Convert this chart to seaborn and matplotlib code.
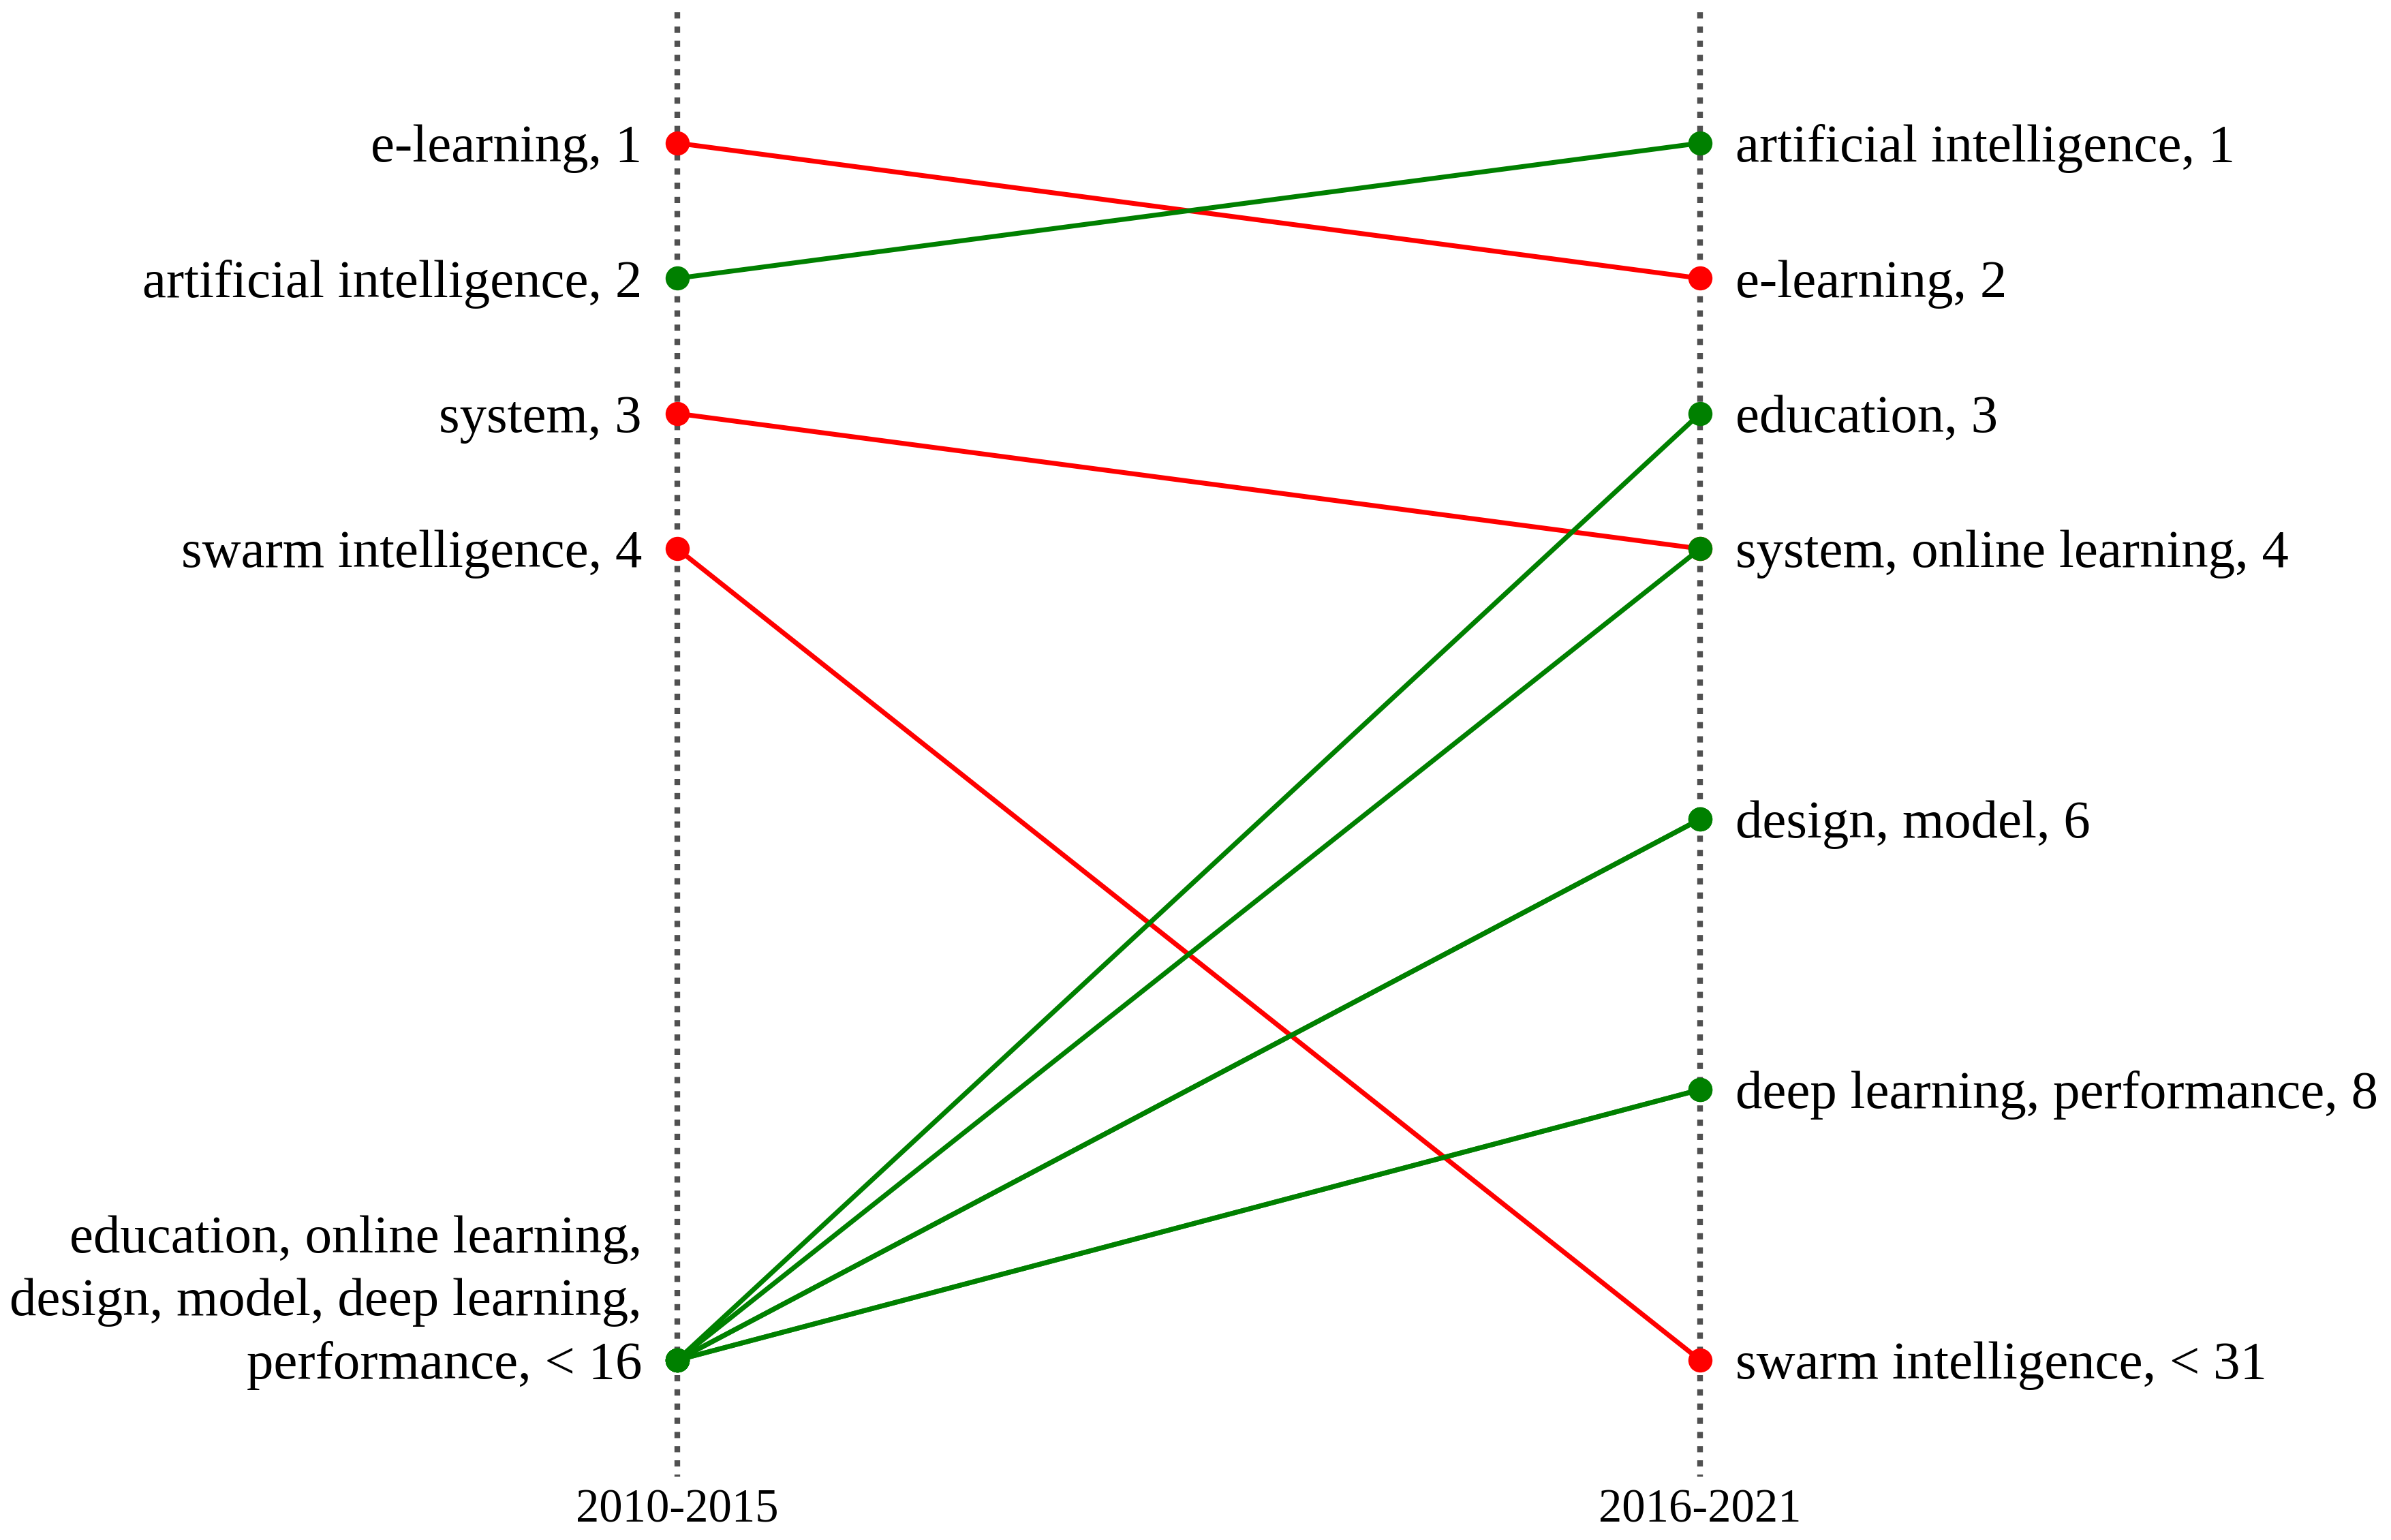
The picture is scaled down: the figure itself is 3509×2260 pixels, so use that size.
import matplotlib
matplotlib.use("Agg")
import matplotlib.pyplot as plt
import seaborn as sns
import pandas as pd

# ---- data ----
periods = ["2010-2015", "2016-2021"]
keywords = ["e-learning", "artificial intelligence", "system", "swarm intelligence",
            "education", "online learning", "design", "model", "deep learning", "performance"]
rank_2010 = [1, 2, 3, 4, 10, 10, 10, 10, 10, 10]   # 10 = "< 16" slot
rank_2016 = [2, 1, 4, 10, 3, 4, 6, 6, 8, 8]         # 10 = "< 31" slot

left_labels = ["e-learning, 1", "artificial intelligence, 2", "system, 3",
               "swarm intelligence, 4",
               "education, online learning,\ndesign, model, deep learning,\nperformance, < 16"]
left_label_ranks = [1, 2, 3, 4, 10]
right_labels = ["artificial intelligence, 1", "e-learning, 2", "education, 3",
                "system, online learning, 4", "design, model, 6",
                "deep learning, performance, 8", "swarm intelligence, < 31"]
right_label_ranks = [1, 2, 3, 4, 6, 8, 10]

# ---- style ----
sns.set_theme(style="white")
plt.rcParams["font.family"] = ["Liberation Serif", "DejaVu Serif"]

rows = []
for k, a, b in zip(keywords, rank_2010, rank_2016):
    change = "up" if b < a else "down"
    rows.append({"keyword": k, "x": 0, "rank": a, "change": change})
    rows.append({"keyword": k, "x": 1, "rank": b, "change": change})
df = pd.DataFrame(rows)

W, H, DPI = 3509, 2260, 300
fig = plt.figure(figsize=(W / DPI, H / DPI), dpi=DPI)
ax = fig.add_axes([0, 0, 1, 1])

# dotted period axes
ax.vlines([0, 1], 0.03, 10.86, colors="#505050", linestyles=(0, (1.1, 1.4)),
          linewidth=2.0, zorder=1)

sns.lineplot(data=df, x="x", y="rank", units="keyword", estimator=None,
             hue="change", hue_order=["down", "up"],
             palette={"down": "#ff0000", "up": "#008000"},
             marker="o", markersize=8.5, markeredgewidth=0,
             linewidth=1.7, legend=False, ax=ax, zorder=3, sort=False)

fs = 18.9
for txt, r in zip(left_labels, left_label_ranks):
    ax.annotate(txt, (0, r), xytext=(-12.5, -6.5), textcoords="offset points",
                ha="right", va="baseline", multialignment="right",
                fontsize=fs, color="black", linespacing=1.38)
for txt, r in zip(right_labels, right_label_ranks):
    ax.annotate(txt, (1, r), xytext=(12.5, -6.5), textcoords="offset points",
                ha="left", va="baseline", fontsize=fs, color="black")
for i, p in enumerate(periods):
    ax.text(i, 11.11, p, ha="center", va="center", fontsize=16.5, color="black")

# map data to pixel layout
px0, px1 = 994, 2495
sx = px1 - px0
ax.set_xlim(-px0 / sx, (W - px0) / sx)
ry1, ry10 = 210, 1996
sy = (ry10 - ry1) / 9
ax.set_ylim(1 + (H - ry1) / sy, 1 - ry1 / sy)
ax.axis("off")

fig.savefig("out.png", dpi=DPI, facecolor="white")
